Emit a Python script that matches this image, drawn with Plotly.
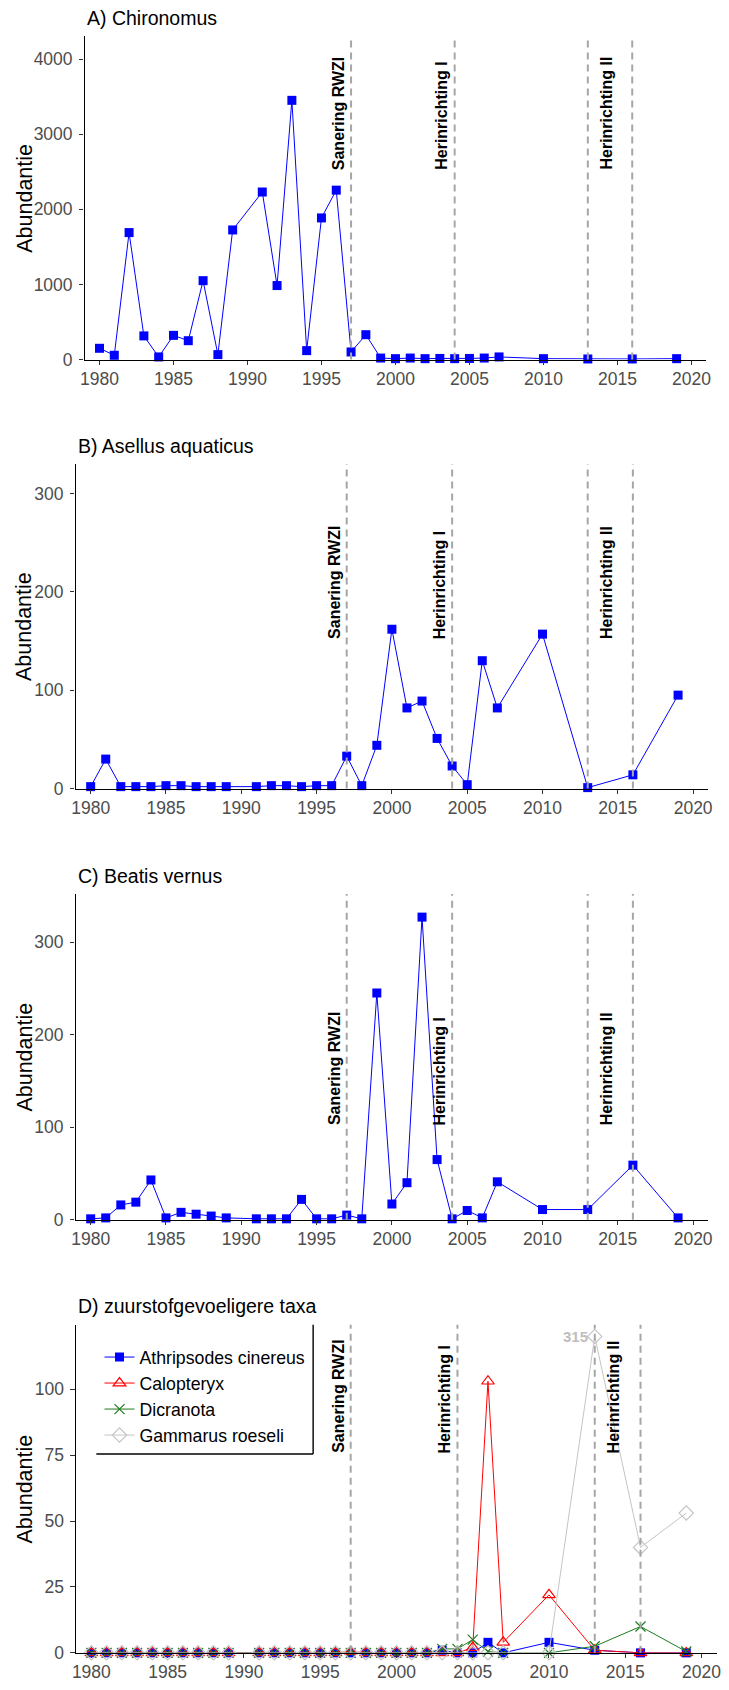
import plotly.graph_objects as go

W, H = 729, 1690

years = [1980, 1981, 1982, 1983, 1984, 1985, 1986, 1987, 1988, 1989,
         1991, 1992, 1993, 1994, 1995, 1996, 1997, 1998, 1999, 2000,
         2001, 2002, 2003, 2004, 2005, 2006, 2007, 2010, 2013, 2016, 2019]

chironomus = [150, 57, 1690, 315, 35, 322, 251, 1050, 66, 1725,
              2230, 985, 3450, 119, 1885, 2255, 101, 331, 20, 12,
              20, 12, 15, 12, 15, 20, 35, 12, 8, 8, 12]

asellus = [2, 30, 2, 2, 2, 3, 3, 2, 2, 2,
           2, 3, 3, 2, 3, 3, 33, 3, 44, 162,
           82, 89, 51, 23, 4, 130, 82, 157, 1, 14, 95]

beatis = [1, 2, 16, 19, 43, 2, 8, 6, 4, 2,
          1, 1, 1, 22, 1, 1, 5, 1, 245, 17,
          40, 327, 65, 1, 10, 2, 41, 11, 11, 59, 2]

athripsodes = [0, 0, 0, 0, 0, 0, 0, 0, 0, 0,
               0, 0, 0, 0, 0, 0, 0, 0, 0, 0,
               0, 0, 1, 0, 0, 4, 0, 4, 1, 0, 0]
calopteryx = [0, 0, 0, 0, 0, 0, 0, 0, 0, 0,
              0, 0, 0, 0, 0, 0, 0.5, 0, 0, 0,
              0, 0, 0, 0, 2, 103, 4, 22, 1, 0, 0]
dicranota = [0, 0, 0, 0, 0, 0, 0, 0, 0, 0,
             0, 0, 0, 0, 0, 0, 0, 0, 0, 0,
             0, 0, 1.5, 1.5, 5, 0.5, 0, 0, 2.5, 10, 0.5]
gammarus = [0, 0, 0, 0, 0, 0, 0, 0, 0, 0,
            0, 0, 0, 0, 0, 0, 0, 0, 0, 0,
            0, 0, 0, 0, 0, 0, 0, 0, 315, 40, 53]
gammarus_cap = 120  # plotted ceiling, true value written as a label

events = [1997, 2004, 2013, 2016]
event_labels = ["Sanering RWZI", "Herinrichting I", "Herinrichting II"]
event_label_x = [1996.15, 2003.15, 2014.25]

panel_titles = ["A) Chironomus", "B) Asellus aquaticus", "C) Beatis vernus",
                "D) zuurstofgevoeligere taxa"]
y_ticks = [[0, 1000, 2000, 3000, 4000], [0, 100, 200, 300], [0, 100, 200, 300],
           [0, 25, 50, 75, 100]]
y_ranges = [[0, 4300], [0, 330], [0, 352], [0, 124.4]]
label_y = [2500, 150, 100, 75]
x_ticks = [1980, 1985, 1990, 1995, 2000, 2005, 2010, 2015, 2020]

# panel boxes in pixels (left, right, top, bottom)
boxes = [(81.7, 711, 36.7, 361.7),
         (72.5, 713, 466.7, 793.3),
         (72.5, 713, 899.3, 1227),
         (73, 721.7, 1332.7, 1662.7)]
title_y = [18.3, 448.3, 881, 1313.3]

FONT = "Liberation Sans, Arial, sans-serif"
BLUE = "#0000FF"

fig = go.Figure()
layout = dict(width=W, height=H, margin=dict(l=0, r=0, t=0, b=0),
              paper_bgcolor="white", plot_bgcolor="white",
              font=dict(family=FONT, color="black"), showlegend=True)
annotations = []
shapes = []

for i, (l, r, t, b) in enumerate(boxes):
    n = "" if i == 0 else str(i + 1)
    xa, ya = "xaxis" + n, "yaxis" + n
    xr, yr = "x" + n, "y" + n
    layout[xa] = dict(domain=[l / W, r / W], anchor=yr, range=[1979, 2021],
                      tickvals=x_ticks, ticks="outside", ticklen=4.4, tickwidth=1.2,
                      tickcolor="#333333", showline=True, linecolor="black", linewidth=1.4,
                      showgrid=False, zeroline=False,
                      tickfont=dict(size=17.5, color="#4D4D4D", family=FONT),
                      ticklabelstandoff=-1)
    layout[ya] = dict(domain=[1 - b / H, 1 - t / H], anchor=xr, range=y_ranges[i],
                      tickvals=y_ticks[i], ticks="outside", ticklen=4.4, tickwidth=1.2,
                      tickcolor="#333333", showline=True, linecolor="black", linewidth=1.4,
                      showgrid=False, zeroline=False,
                      tickfont=dict(size=17.5, color="#4D4D4D", family=FONT),
                      ticklabelstandoff=3)
    annotations.append(dict(text=panel_titles[i], xref="paper", yref="paper",
                            x=l / W, y=1 - title_y[i] / H, xanchor="left", yanchor="middle",
                            showarrow=False, font=dict(size=19.5, color="black", family=FONT)))
    annotations.append(dict(text="Abundantie", xref="paper", yref="paper",
                            x=21 / W, y=1 - (t + b) / 2 / H, xanchor="center", yanchor="middle",
                            textangle=-90, showarrow=False,
                            font=dict(size=21.5, color="black", family=FONT)))
    for ev in events:
        shapes.append(dict(type="line", xref=xr, yref=yr + " domain", x0=ev, x1=ev, y0=0, y1=1,
                           line=dict(color="#A6A6A6", width=2, dash="7px,5px"), layer="above"))
    for lab, lx in zip(event_labels, event_label_x):
        annotations.append(dict(text="<b>" + lab + "</b>", xref=xr, yref=yr, x=lx, y=label_y[i],
                                xanchor="center", yanchor="bottom", textangle=-90,
                                showarrow=False, font=dict(size=16, color="black", family=FONT)))

single = [chironomus, asellus, beatis]
for i, vals in enumerate(single):
    n = "" if i == 0 else str(i + 1)
    fig.add_trace(go.Scatter(x=years, y=vals, mode="lines+markers", xaxis="x" + n, yaxis="y" + n,
                             line=dict(color=BLUE, width=1),
                             marker=dict(symbol="square", size=9, color=BLUE),
                             showlegend=False, cliponaxis=False))

multi = [
    ("Athripsodes cinereus", athripsodes, BLUE, dict(symbol="square", size=9, color=BLUE)),
    ("Calopteryx", calopteryx, "#FF0000",
     dict(symbol="triangle-up-open", size=11, color="#FF0000", line=dict(width=1.2))),
    ("Dicranota", dicranota, "#1E7B1E",
     dict(symbol="x-thin-open", size=10, color="#1E7B1E", line=dict(width=1.2, color="#1E7B1E"))),
    ("Gammarus roeseli", [min(v, gammarus_cap) for v in gammarus], "#C4C4C4",
     dict(symbol="diamond-open", size=11, color="#C4C4C4", line=dict(width=1.2))),
]
for k, (name, vals, col, mk) in enumerate(multi):
    fig.add_trace(go.Scatter(x=years, y=vals, mode="lines+markers", name=name,
                             xaxis="x4", yaxis="y4", line=dict(color=col, width=1),
                             marker=mk, legendgroup="g%d" % k, cliponaxis=False))

peak_i = gammarus.index(max(gammarus))
annotations.append(dict(text="<b>%d</b>" % gammarus[peak_i], xref="x4", yref="y4",
                        x=years[peak_i], y=gammarus_cap, xanchor="right", yanchor="middle",
                        xshift=-5, showarrow=False,
                        font=dict(size=15, color="#BEBEBE", family=FONT)))

shapes.append(dict(type="line", xref="paper", yref="paper", x0=313 / W, x1=313 / W,
                   y0=1 - 1332.7 / H, y1=1 - 1462.7 / H, line=dict(color="black", width=1.4)))
shapes.append(dict(type="line", xref="paper", yref="paper", x0=93.5 / W, x1=313 / W,
                   y0=1 - 1462.7 / H, y1=1 - 1462.7 / H, line=dict(color="black", width=1.4)))

layout["legend"] = dict(x=96.7 / W, y=1 - 1347 / H, xanchor="left", yanchor="top",
                        bgcolor="rgba(0,0,0,0)", borderwidth=0, tracegroupgap=0,
                        font=dict(size=17.7, color="black", family=FONT))
layout["annotations"] = annotations
layout["shapes"] = shapes
fig.update_layout(**layout)
fig.write_html("out.html", config={"displayModeBar": False},
               post_script="document.body.style.margin='0px';document.body.style.overflow='hidden';")
